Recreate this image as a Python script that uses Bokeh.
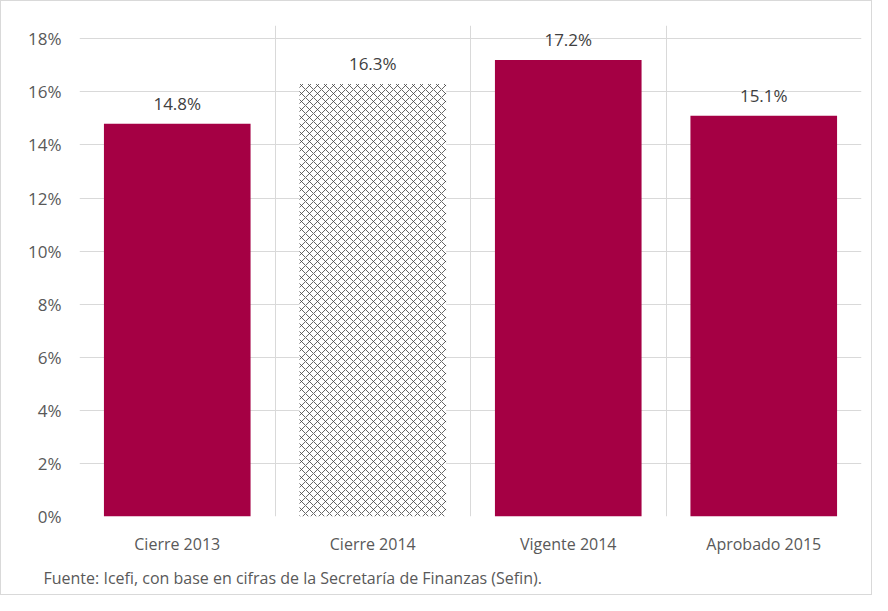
from bokeh.plotting import figure
from bokeh.models import ColumnDataSource, FixedTicker, Title, Range1d
from bokeh.embed import file_html
from bokeh.resources import INLINE

categories = ["Cierre 2013", "Cierre 2014", "Vigente 2014", "Aprobado 2015"]
values = [14.8, 16.3, 17.2, 15.1]
value_labels = ["14.8%", "16.3%", "17.2%", "15.1%"]
hatched = [False, True, False, False]
y_ticks = [0, 2, 4, 6, 8, 10, 12, 14, 16, 18]
y_tick_labels = ["0%", "2%", "4%", "6%", "8%", "10%", "12%", "14%", "16%", "18%"]
footer = "Fuente: Icefi, con base en cifras de la Secretaría de Finanzas (Sefin)."

FONT = "Open Sans"
BAR = "#A50044"
GRID = "#d9d9d9"

p = figure(x_range=categories, y_range=Range1d(0, 18.5), width=872, height=595,
           output_backend="svg", toolbar_location=None,
           min_border_left=78, min_border_right=12, min_border_top=24, min_border_bottom=79)
p.outline_line_color = None
p.background_fill_color = "white"
p.border_fill_color = "white"
p.styles = {"border": "1px solid #d9d9d9", "box-sizing": "border-box"}

solid = ColumnDataSource(dict(
    x=[c for c, h in zip(categories, hatched) if not h],
    top=[v for v, h in zip(values, hatched) if not h]))
hat = ColumnDataSource(dict(
    x=[c for c, h in zip(categories, hatched) if h],
    top=[v for v, h in zip(values, hatched) if h]))

# grid: horizontal at every 2%, vertical at category boundaries, both limited to 0-18%
p.ygrid.ticker = FixedTicker(ticks=y_ticks)
p.ygrid.grid_line_color = GRID
p.ygrid.grid_line_width = 1
p.xgrid.ticker = FixedTicker(ticks=list(range(len(categories) + 1)))
p.xgrid.bounds = (y_ticks[0], y_ticks[-1])
p.xgrid.grid_line_color = GRID
p.xgrid.grid_line_width = 1

p.vbar(x="x", top="top", width=0.75, source=solid, fill_color=BAR, line_color=None)
p.vbar(x="x", top="top", width=0.75, source=hat, fill_color="white", line_color=None,
       hatch_pattern="diagonal_cross", hatch_scale=8, hatch_weight=0.8, hatch_color="#404040")

lab = ColumnDataSource(dict(x=categories, y=values, t=value_labels))
p.text(x="x", y="y", text="t", source=lab, text_align="center", text_baseline="bottom",
       y_offset=-9, text_font_size="17px", text_color="#404040", text_font={"value": FONT})

# axes
p.yaxis.ticker = FixedTicker(ticks=y_ticks)
p.yaxis.major_label_overrides = {t: l for t, l in zip(y_ticks, y_tick_labels)}
for ax in (p.xaxis, p.yaxis):
    ax.axis_line_color = None
    ax.major_tick_line_color = None
    ax.minor_tick_line_color = None
    ax.major_tick_out = 0
    ax.major_tick_in = 0
    ax.major_label_text_font = FONT
    ax.major_label_text_color = "#595959"
p.yaxis.major_label_text_font_size = "17px"
p.xaxis.major_label_text_font_size = "16px"
p.yaxis.major_label_standoff = 18
p.xaxis.major_label_standoff = 16

p.add_layout(Title(text=footer, align="left", offset=-36, standoff=15, text_font=FONT,
                   text_font_size="16px", text_font_style="normal", text_color="#595959"), "below")

open("out.html", "w").write(file_html(p, INLINE))
